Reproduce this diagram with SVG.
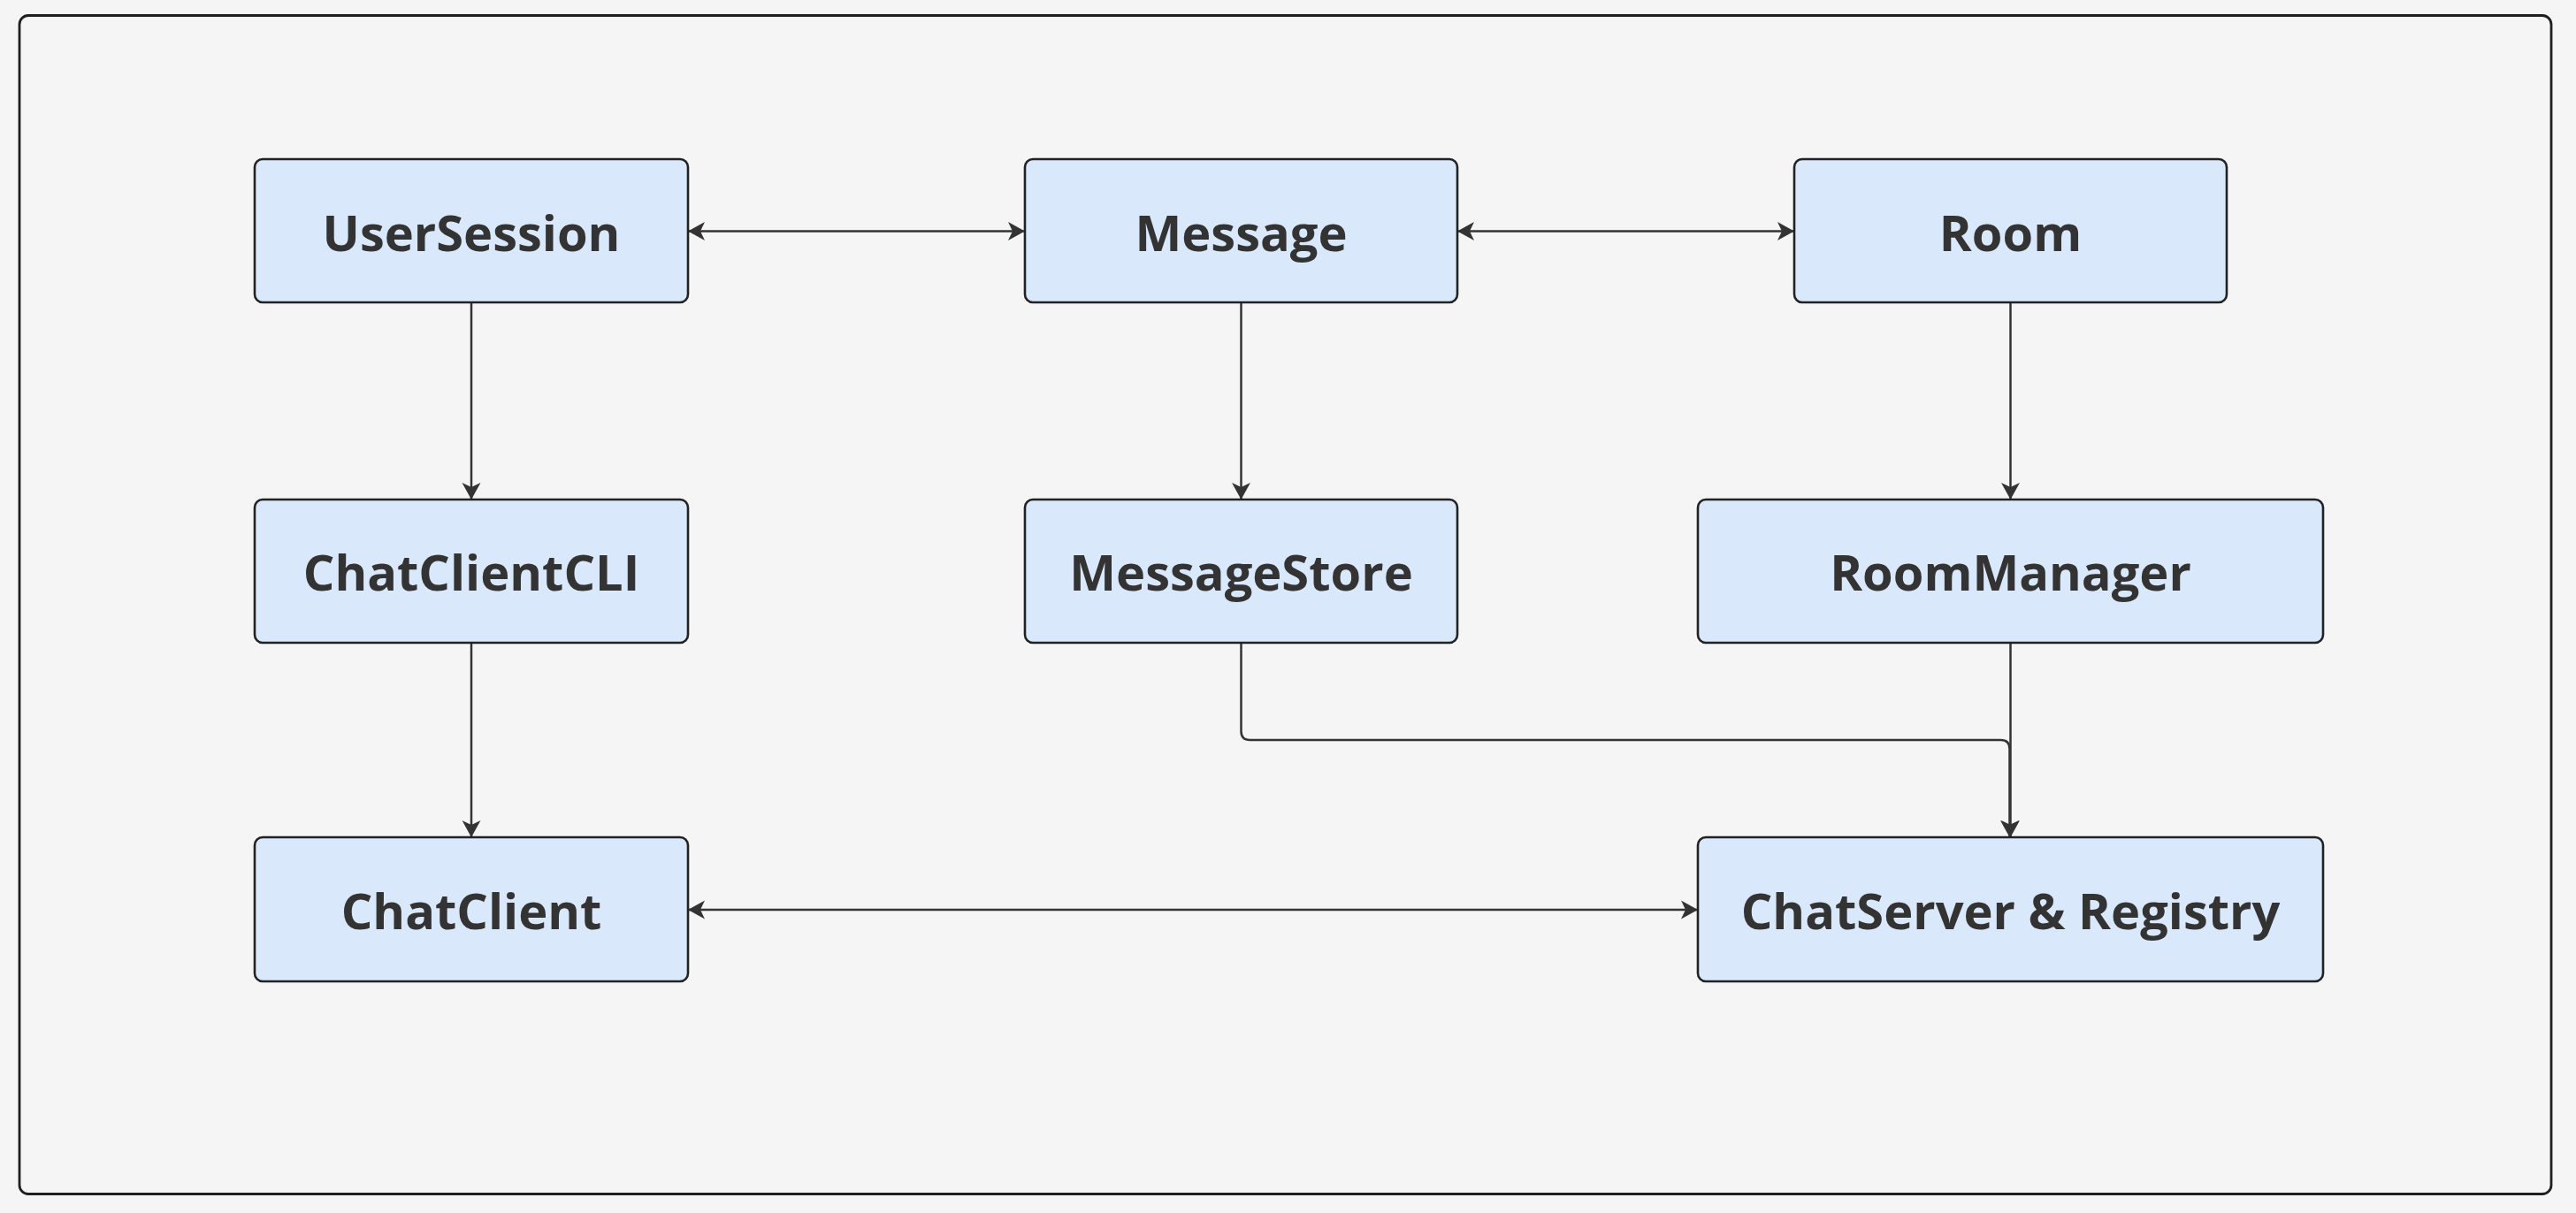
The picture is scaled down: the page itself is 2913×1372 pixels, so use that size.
<svg xmlns="http://www.w3.org/2000/svg" width="2913" height="1372" viewBox="0 0 2913 1372">
  <style>
    .node rect { fill: #dae8fc; stroke: #222222; stroke-width: 2.6; }
    .node text { font-family: "Open Sans", "Noto Sans", "Liberation Sans", sans-serif; font-weight: 700; font-size: 56px; fill: #333333; text-anchor: middle; }
    .edge { fill: none; stroke: #333333; stroke-width: 2.5; }
  </style>
  <defs>
    <marker id="arrow" viewBox="0 -11 19 22" refX="19" refY="0" markerWidth="19" markerHeight="22" markerUnits="userSpaceOnUse" orient="auto-start-reverse">
      <path d="M0,-10.5 L19,0 L0,10.5 L5,0 Z" fill="#333333"/>
    </marker>
  </defs>
  <rect x="0" y="0" width="2913" height="1372" fill="#f5f5f5"/>
  <rect id="frame" x="22" y="17.5" width="2863" height="1333" rx="10" ry="10" fill="#f5f5f5" stroke="#1f1f1f" stroke-width="2.8"/>

  <g id="connectors">
    <path class="edge" d="M778,261.5 H1159" marker-start="url(#arrow)" marker-end="url(#arrow)"/>
    <path class="edge" d="M1648,261.5 H2029" marker-start="url(#arrow)" marker-end="url(#arrow)"/>
    <path class="edge" d="M778,1029 H1920" marker-start="url(#arrow)" marker-end="url(#arrow)"/>
    <path class="edge" d="M533,342 V565" marker-end="url(#arrow)"/>
    <path class="edge" d="M1403.5,342 V565" marker-end="url(#arrow)"/>
    <path class="edge" d="M2273.5,342 V565" marker-end="url(#arrow)"/>
    <path class="edge" d="M533,727 V947" marker-end="url(#arrow)"/>
    <path class="edge" d="M2273.5,727 V947" marker-end="url(#arrow)"/>
    <path class="edge" d="M1403.5,727 V827 Q1403.5,837 1413.5,837 H2262.5 Q2272.5,837 2272.5,847 V947" marker-end="url(#arrow)"/>
  </g>

  <g id="UserSession" class="node">
    <rect x="288" y="180" width="490" height="162" rx="9" ry="9"/>
    <text x="533" y="284">UserSession</text>
  </g>
  <g id="Message" class="node">
    <rect x="1159" y="180" width="489" height="162" rx="9" ry="9"/>
    <text x="1403.5" y="284">Message</text>
  </g>
  <g id="Room" class="node">
    <rect x="2029" y="180" width="489" height="162" rx="9" ry="9"/>
    <text x="2273.5" y="284">Room</text>
  </g>
  <g id="ChatClientCLI" class="node">
    <rect x="288" y="565" width="490" height="162" rx="9" ry="9"/>
    <text x="533" y="668">ChatClientCLI</text>
  </g>
  <g id="MessageStore" class="node">
    <rect x="1159" y="565" width="489" height="162" rx="9" ry="9"/>
    <text x="1403.5" y="668">MessageStore</text>
  </g>
  <g id="RoomManager" class="node">
    <rect x="1920" y="565" width="707" height="162" rx="9" ry="9"/>
    <text x="2273.5" y="668">RoomManager</text>
  </g>
  <g id="ChatClient" class="node">
    <rect x="288" y="947" width="490" height="163" rx="9" ry="9"/>
    <text x="533" y="1051">ChatClient</text>
  </g>
  <g id="ChatServerRegistry" class="node">
    <rect x="1920" y="947" width="707" height="163" rx="9" ry="9"/>
    <text x="2273.5" y="1051">ChatServer &amp; Registry</text>
  </g>
</svg>
